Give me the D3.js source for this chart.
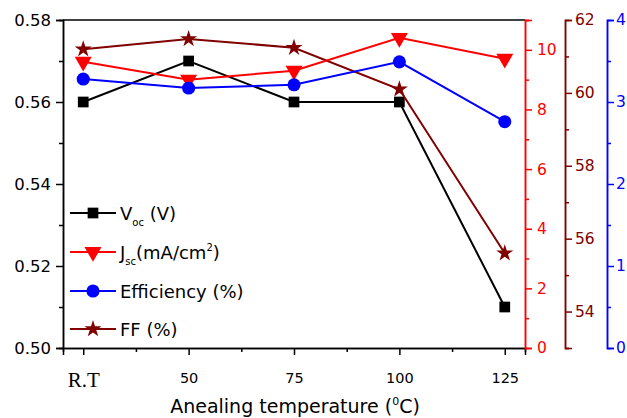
<!DOCTYPE html>
<html>
<head>
<meta charset="utf-8">
<script src="https://cdn.jsdelivr.net/npm/d3@7"></script>
<style>
  body { margin: 0; background: #fff; }
  svg { font-family: "DejaVu Sans", sans-serif; }
</style>
</head>
<body>
<svg id="chart"></svg>
<script>
// annealing temperature (R.T plotted at 25)
const temps = [25, 50, 75, 100, 125];
const tempLabels = ["R.T", "50", "75", "100", "125"];
const voc = [0.560, 0.570, 0.560, 0.560, 0.510];
const jsc = [9.6, 9.0, 9.3, 10.4, 9.7];
const eff = [3.28, 3.17, 3.21, 3.49, 2.76];
const ff = [61.2, 61.48, 61.24, 60.1, 55.6];

const width = 627, height = 418;
const plotL = 63, plotR = 525, plotT = 20, plotB = 348;
const FONT = "DejaVu Sans, sans-serif";

const svg = d3.select("#chart").attr("width", width).attr("height", height);

const x = d3.scaleLinear().domain([20.2, 129.8]).range([plotL, plotR]);
const yV = d3.scaleLinear().domain([0.50, 0.58]).range([plotB, plotT]);
const yJ = d3.scaleLinear().domain([0, 11]).range([plotB, plotT]);
const yF = d3.scaleLinear().domain([53, 62]).range([plotB, plotT]);
const yE = d3.scaleLinear().domain([0, 4]).range([plotB, plotT]);

const RED = "#ff0000", DRED = "#800000", BLUE = "#0000ff";

// top border
svg.append("line").attr("x1", plotL).attr("x2", plotR).attr("y1", plotT).attr("y2", plotT)
  .attr("stroke", "#000").attr("stroke-width", 1.5);

// helper for an axis with minor ticks
function drawAxis(axisFn, scale, major, minor, color, fmt, transform, fontSize, pad) {
  const gMinor = svg.append("g").attr("transform", transform)
    .call(axisFn(scale).tickValues(minor).tickSize(4).tickFormat(""));
  const g = svg.append("g").attr("transform", transform)
    .call(axisFn(scale).tickValues(major).tickSize(7).tickPadding(pad).tickFormat(fmt));
  [g, gMinor].forEach(s => {
    s.select(".domain").attr("stroke", color).attr("stroke-width", 1.5);
    s.selectAll(".tick line").attr("stroke", color).attr("stroke-width", 1.5);
  });
  g.selectAll(".tick text").attr("fill", color).attr("font-size", fontSize)
    .attr("font-family", FONT);
  return g;
}

// x axis
const xg = drawAxis(d3.axisBottom, x, temps, [37.5, 62.5, 87.5, 112.5], "#000",
  (d, i) => tempLabels[i], `translate(0,${plotB})`, 14.5, 18);
xg.selectAll(".tick text").filter((d, i) => i === 0)
  .attr("font-family", "Liberation Serif, Times New Roman, serif").attr("font-size", 21)
  .attr("dy", "0.68em");

// left axis
drawAxis(d3.axisLeft, yV, [0.50, 0.52, 0.54, 0.56, 0.58], [0.51, 0.53, 0.55, 0.57],
  "#000", d3.format(".2f"), `translate(${plotL},0)`, 16.5, 5);

// Jsc axis (red)
drawAxis(d3.axisRight, yJ, [0, 2, 4, 6, 8, 10], [1, 3, 5, 7, 9, 11], RED,
  d3.format("d"), `translate(${plotR},0)`, 15.5, 5);

// FF axis (dark red)
drawAxis(d3.axisRight, yF, [54, 56, 58, 60, 62], [53, 55, 57, 59, 61], DRED,
  d3.format("d"), `translate(565,0)`, 15.5, 3);

// efficiency axis (blue)
drawAxis(d3.axisRight, yE, [0, 1, 2, 3, 4], [0.5, 1.5, 2.5, 3.5], BLUE,
  d3.format("d"), `translate(607,0)`, 15.5, 2);

// series
const series = [
  { name: "voc", vals: voc, y: yV, color: "#000", sym: d3.symbolSquare, size: 115 },
  { name: "ff", vals: ff, y: yF, color: DRED, sym: d3.symbolStar, size: 90 },
  { name: "jsc", vals: jsc, y: yJ, color: RED, sym: "tri", size: 125 },
  { name: "eff", vals: eff, y: yE, color: BLUE, sym: d3.symbolCircle, size: 135 }
];

function markerPath(sym, size) {
  if (sym === "tri") {
    const s = Math.sqrt(size * 4 / Math.sqrt(3));
    const h = s * Math.sqrt(3) / 2;
    return `M${-s / 2},${-h / 3}L${s / 2},${-h / 3}L0,${2 * h / 3}Z`;
  }
  return d3.symbol().type(sym).size(size)();
}

const line = d3.line();
series.forEach(s => {
  const pts = temps.map((t, i) => [x(t), s.y(s.vals[i])]);
  svg.append("path").attr("d", line(pts)).attr("fill", "none")
    .attr("stroke", s.color).attr("stroke-width", 2);
  svg.append("g").selectAll("path").data(pts).join("path")
    .attr("transform", d => `translate(${d[0]},${d[1]})`)
    .attr("d", markerPath(s.sym, s.size))
    .attr("fill", s.color);
});

// legend
const legend = [
  { color: "#000", sym: d3.symbolSquare, size: 115, y: 213, label: "V", sub: "oc", rest: " (V)" },
  { color: RED, sym: "tri", size: 125, y: 252, label: "J", sub: "sc", rest: "(mA/cm", sup: "2", tail: ")" },
  { color: BLUE, sym: d3.symbolCircle, size: 135, y: 291, label: "Efficiency (%)" },
  { color: DRED, sym: d3.symbolStar, size: 90, y: 329, label: "FF (%)" }
];
legend.forEach(l => {
  svg.append("line").attr("x1", 70).attr("x2", 116).attr("y1", l.y).attr("y2", l.y)
    .attr("stroke", l.color).attr("stroke-width", 2);
  svg.append("path").attr("transform", `translate(93,${l.y})`)
    .attr("d", markerPath(l.sym, l.size)).attr("fill", l.color);
  const t = svg.append("text").attr("x", 120).attr("y", l.y + 6.5)
    .attr("font-size", 18).attr("fill", "#000");
  t.append("tspan").text(l.label);
  if (l.sub) t.append("tspan").attr("font-size", 10).attr("dy", 6).text(l.sub);
  if (l.rest) t.append("tspan").attr("dy", -6).text(l.rest);
  if (l.sup) t.append("tspan").attr("font-size", 10).attr("dy", -8).text(l.sup);
  if (l.tail) t.append("tspan").attr("dy", 8).text(l.tail);
});

// x title
const xt = svg.append("text").attr("x", 295).attr("y", 413).attr("text-anchor", "middle")
  .attr("font-size", 19).attr("fill", "#000");
xt.append("tspan").text("Anealing temperature (");
xt.append("tspan").attr("font-size", 11).attr("dy", -8).text("0");
xt.append("tspan").attr("dy", 8).text("C)");
</script>
</body>
</html>
